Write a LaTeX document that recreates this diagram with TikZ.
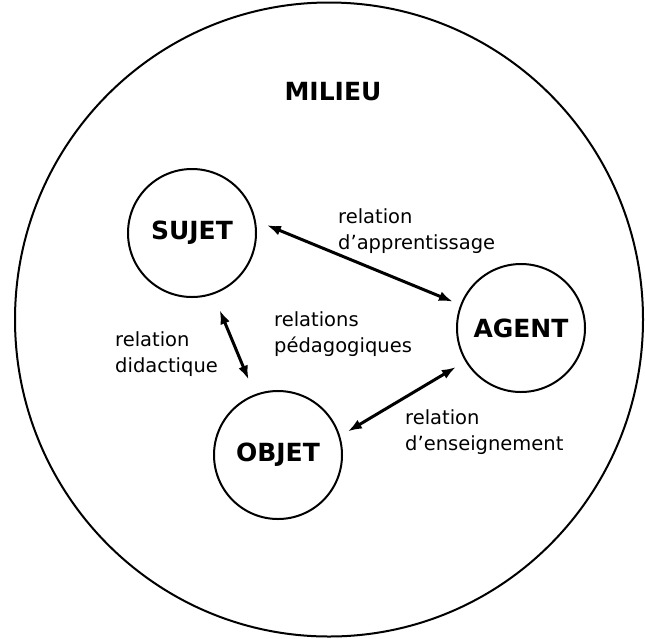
\documentclass[tikz,border=0pt]{standalone}
\usepackage{fontspec}
\setmainfont{DejaVu Sans}
\usetikzlibrary{arrows.meta, positioning}
\tikzstyle{pole}=[circle, draw, line width=2pt, minimum size=128pt, inner sep=0pt, font=\fontsize{25}{29}\selectfont\bfseries]
\tikzstyle{rel}=[align=left, anchor=west, inner sep=0pt, font=\fontsize{19.5}{26}\selectfont]
\tikzstyle{link}=[{Latex[length=14pt,width=10pt]}-{Latex[length=14pt,width=10pt]}, line width=3pt]

\begin{document}
\begin{tikzpicture}[x=1pt, y=-1pt]
\useasboundingbox (0,0) rectangle (645,638);
\draw[line width=2pt] (329,319.5) ellipse [x radius=314pt, y radius=317pt];
\node[font=\fontsize{25}{29}\selectfont\bfseries] (milieu) at (333,92) {MILIEU};

\node[pole] (sujet) at (192,233) {SUJET};
\node[pole] (agent) at (521,328) {AGENT};
\node[pole] (objet) at (278,455) {OBJET};

\node[rel] (app) at (338,231) {relation\\d’apprentissage};
\node[rel] (did) at (115,354) {relation\\didactique};
\node[rel] (ped) at (274,334) {relations\\pédagogiques};
\node[rel] (ens) at (405,432) {relation\\d’enseignement};

\draw[link, shorten <=12pt, shorten >=8pt] (sujet.11) -- (agent.159);
\draw[link, shorten <=17pt, shorten >=16pt] (sujet.289) -- (objet.111);
\draw[link, shorten <=11pt, shorten >=9pt] (agent.211) -- (objet.17);
\end{tikzpicture}
\end{document}
